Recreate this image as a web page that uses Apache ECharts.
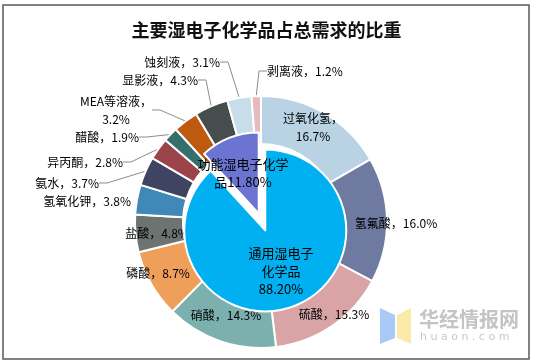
<!DOCTYPE html>
<html>
<head>
<meta charset="utf-8">
<script src="https://cdn.jsdelivr.net/npm/echarts@6/dist/echarts.min.js"></script>
<style>
html,body{margin:0;padding:0;background:#fff;}
#c{width:533px;height:364px;}
</style>
</head>
<body>
<div id="c"></div>
<script>
// ---- data ----
const titleText = '主要湿电子化学品占总需求的比重';
const outerNames = ['过氧化氢','氢氟酸','硫酸','硝酸','磷酸','盐酸','氢氧化钾','氨水','异丙酮','醋酸','MEA等溶液','显影液','蚀刻液','剥离液'];
const outerValues = [16.7,16.0,15.3,14.3,8.7,4.8,3.8,3.7,2.8,1.9,3.2,4.3,3.1,1.2];
const innerNames = ['通用湿电子化学品','功能湿电子化学品'];
const innerValues = [88.20,11.80];

// ---- styles / layout ----
const outerColors = ['#B9D3E5','#6F7AA0','#D9A4A6','#7BB0AE','#F09F5B','#6D7370','#3F88B8','#3E4462','#9B4449','#356F6C','#BE5A10','#474C4C','#C8DDEA','#E4BABB'];
const innerColors = ['#00B0F0','#6B75D1'];
// label anchor: [x, y, align, showLine, breakAfterComma]
const outerLabelPos = [
  [313,127,'center',false,true],
  [396,223,'center',false,false],
  [334,314,'center',false,false],
  [226,315,'center',false,false],
  [158,273,'center',false,false],
  [157,233,'center',false,false],
  [131,201,'right',false,false],
  [99,183,'right',true,false],
  [123,162,'right',true,false],
  [139,137,'right',true,false],
  [116,110,'center',true,true],
  [198,80,'right',true,false],
  [220,62,'right',true,false],
  [267,71,'left',true,false]
];
const innerLabelText = ['通用湿电子\n化学品\n','功能湿电子化学\n品'];
const innerLabelPos = [[298,260],[241,182]];

const font = '"Noto Sans CJK SC", sans-serif';

const outerData = outerNames.map((n,i)=>({
  name:n, value:outerValues[i],
  itemStyle:{color:outerColors[i]},
  labelLine:{show:outerLabelPos[i][3]}
}));
const innerData = innerNames.map((n,i)=>({
  name:n, value:innerValues[i], selected:true,
  itemStyle:{color:innerColors[i]}
}));

const chart = echarts.init(document.getElementById('c'), null, {renderer:'canvas'});
chart.setOption({
  animation:false,
  backgroundColor:'#fff',
  title:{text:titleText,left:'center',top:16,textStyle:{fontFamily:font,fontSize:18,fontWeight:'bold',color:'#111'}},
  graphic:[
    {type:'rect',shape:{x:3,y:5,width:526,height:354},style:{fill:'none',stroke:'#5a5a5a',lineWidth:1.5},z:-1},
    {type:'polygon',shape:{points:[[380,308],[395,315],[395,338],[380,344]]},style:{fill:'#A9C9F6'}},
    {type:'polygon',shape:{points:[[397,315],[411,308],[411,344],[397,338]]},style:{fill:'#FCEAA8'}},
    {type:'text',left:419,top:309,style:{text:'华经情报网',font:'bold 20px "Noto Sans CJK SC", sans-serif',fill:'#C4C4C4'}},
    {type:'text',left:420,top:332,style:{text:'h u a o n . c o m',font:'11px "DejaVu Sans", sans-serif',fill:'#C8C8C8'}}
  ],
  series:[
    {
      type:'pie', name:'outer', center:[261,222], radius:[78,126],
      startAngle:90, clockwise:true, z:2,
      itemStyle:{borderColor:'#fff',borderWidth:2},
      label:{
        show:true, position:'outside', color:'#000', fontFamily:font, fontSize:12, lineHeight:18,
        formatter:p=>p.name+'，'+(outerLabelPos[p.dataIndex][4]?'\n':'')+p.value.toFixed(1)+'%'
      },
      labelLine:{show:true,length:8,length2:8,lineStyle:{color:'#8c8c8c',width:1}},
      labelLayout:p=>{
        const L = outerLabelPos[p.dataIndex];
        return {x:L[0], y:L[1], align:L[2], verticalAlign:'middle', hideOverlap:false};
      },
      emphasis:{disabled:true},
      data:outerData
    },
    {
      type:'pie', name:'inner', center:[262,222], radius:[0,81],
      startAngle:90, clockwise:true, z:3,
      selectedMode:'multiple', selectedOffset:9,
      itemStyle:{borderColor:'#fff',borderWidth:2},
      label:{
        show:true, position:'inside', color:'#000', fontFamily:font, fontSize:13, lineHeight:18,
        formatter:p=>innerLabelText[p.dataIndex]+p.value.toFixed(2)+'%'
      },
      labelLayout:p=>({x:innerLabelPos[p.dataIndex][0], y:innerLabelPos[p.dataIndex][1], align:'center', verticalAlign:'middle'}),
      emphasis:{disabled:true},
      data:innerData
    }
  ]
});
</script>
</body>
</html>
